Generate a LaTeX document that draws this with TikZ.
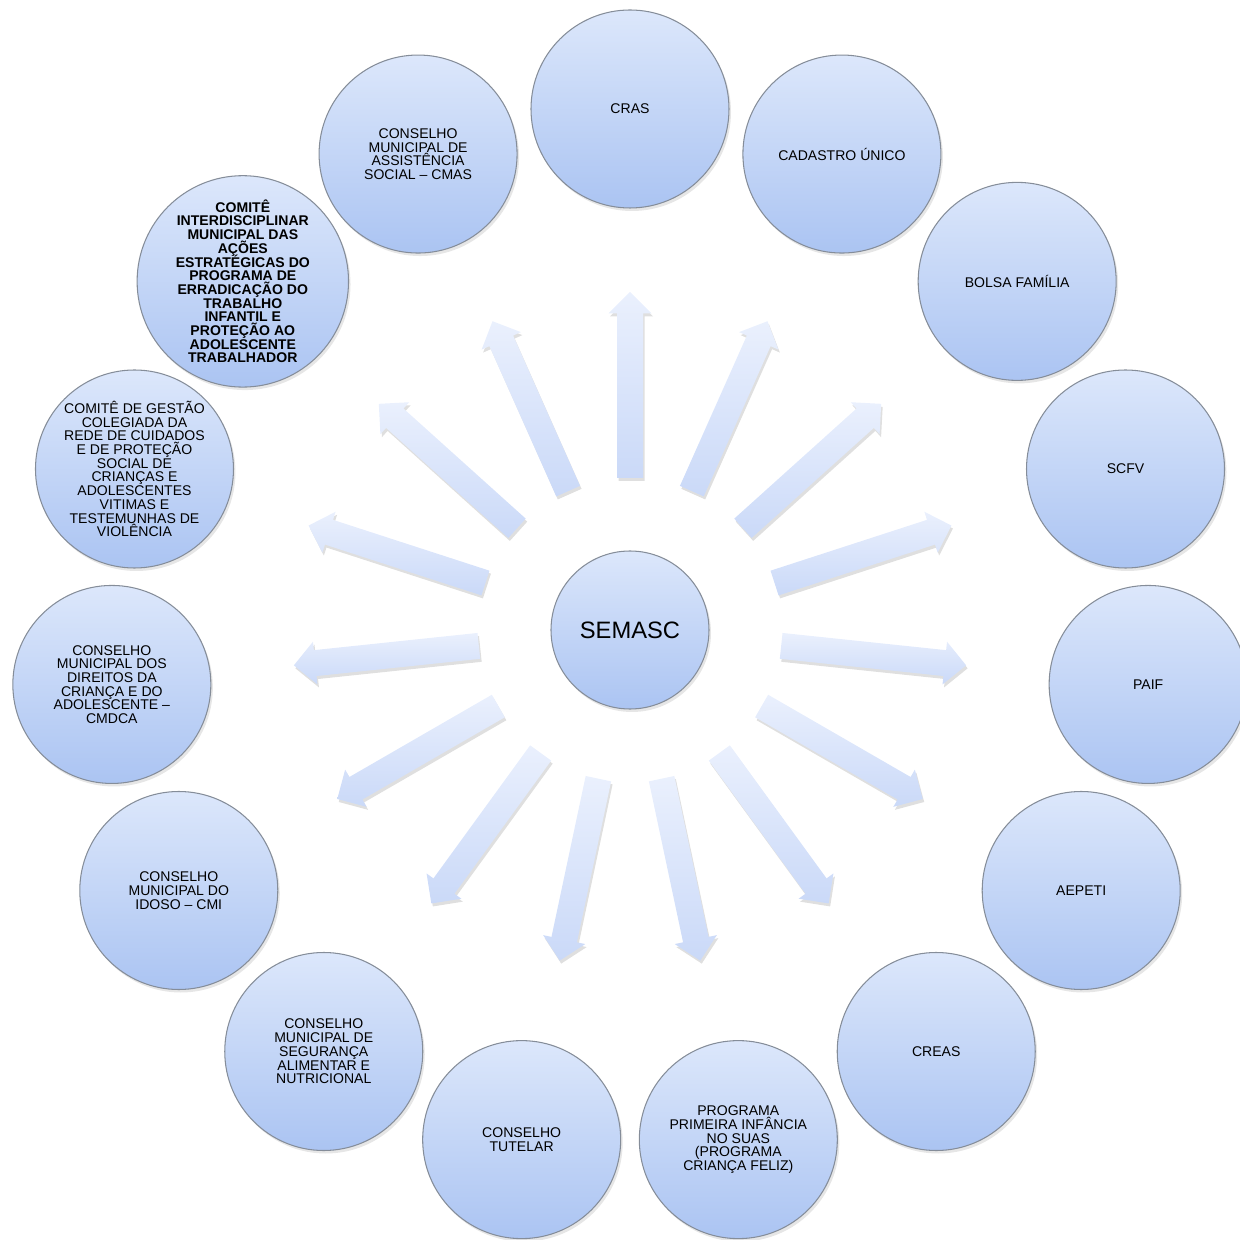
\documentclass[tikz,border=0pt]{standalone}
\usepackage{fontspec}
\setmainfont{Liberation Sans}
\usetikzlibrary{shadows, positioning}
\definecolor{circtop}{HTML}{DCE7FB}
\definecolor{circbot}{HTML}{ABC4F2}
\definecolor{circline}{HTML}{858D99}
\definecolor{arrtop}{HTML}{EAF0FD}
\definecolor{arrbot}{HTML}{CAD9F8}
\newcommand{\unitfont}{\fontsize{8}{7.8}\selectfont\lineskiplimit-6pt\relax}
\tikzstyle{unit} = [circle, minimum size=3.96cm, inner sep=0pt, align=center, draw=circline, line width=0.6pt, top color=circtop, bottom color=circbot, text=black, font=\unitfont, drop shadow={opacity=0.2, shadow xshift=0.04cm, shadow yshift=-0.06cm}]
\tikzstyle{hub} = [unit, minimum size=3.16cm, font=\fontsize{13.5}{14}\selectfont]
\tikzstyle{blockarrow} = [draw=none, top color=arrtop, bottom color=arrbot, drop shadow={opacity=0.25, shadow xshift=0.03cm, shadow yshift=-0.06cm}]

\begin{document}
\begin{tikzpicture}
\useasboundingbox (-12.6,-12.2) rectangle (12.2,12.6);

% centre
\node (semasc) [hub] at (0,0) {SEMASC};

% arrows: x runs outwards, y across, so the shading stays upright on the page
\foreach \ang in {90,66,42,18,-6,-30,-54,-78,-102,-126,-150,-174,162,138,114}
  \path[blockarrow, x={(\ang:1cm)}, y={(\ang+90:1cm)}]
    (3.04,-0.26) -- (3.04,0.26) -- (6.33,0.26) -- (6.33,0.43) -- (6.76,0)
    -- (6.33,-0.43) -- (6.33,-0.26) -- cycle;

% outer units
\node (cras) [unit] at (90:10.42) {CRAS};
\node (cadastro) [unit] at (66:10.42) {CADASTRO ÚNICO};
\node (bolsa) [unit] at (42:10.42) {BOLSA FAMÍLIA};
\node (scfv) [unit] at (18:10.42) {SCFV};
\node (paif) [unit] at (-6:10.42) {PAIF};
\node (aepeti) [unit] at (-30:10.42) {AEPETI};
\node (creas) [unit] at (-54:10.42) {CREAS};
\node (infancia) [unit] at (-78:10.42) {PROGRAMA\\PRIMEIRA INFÂNCIA\\NO SUAS\\(PROGRAMA\\CRIANÇA FELIZ)};
\node (tutelar) [unit] at (-102:10.42) {CONSELHO\\TUTELAR};
\node (seguranca) [unit] at (-126:10.42) {CONSELHO\\MUNICIPAL DE\\SEGURANÇA\\ALIMENTAR E\\NUTRICIONAL};
\node (idoso) [unit] at (-150:10.42) {CONSELHO\\MUNICIPAL DO\\IDOSO – CMI};
\node (cmdca) [unit] at (-174:10.42) {CONSELHO\\MUNICIPAL DOS\\DIREITOS DA\\CRIANÇA E DO\\ADOLESCENTE –\\CMDCA};
\node (gestao) [unit] at (162:10.42) {COMITÊ DE GESTÃO\\COLEGIADA DA\\REDE DE CUIDADOS\\E DE PROTEÇÃO\\SOCIAL DE\\CRIANÇAS E\\ADOLESCENTES\\VITIMAS E\\TESTEMUNHAS DE\\VIOLÊNCIA};
\node (peti) [unit, font=\unitfont\bfseries] at (138:10.42) {COMITÊ\\INTERDISCIPLINAR\\MUNICIPAL DAS\\AÇÕES\\ESTRATÉGICAS DO\\PROGRAMA DE\\ERRADICAÇÃO DO\\TRABALHO\\INFANTIL E\\PROTEÇÃO AO\\ADOLESCENTE\\TRABALHADOR};
\node (cmas) [unit] at (114:10.42) {CONSELHO\\MUNICIPAL DE\\ASSISTÊNCIA\\SOCIAL – CMAS};

\end{tikzpicture}
\end{document}
